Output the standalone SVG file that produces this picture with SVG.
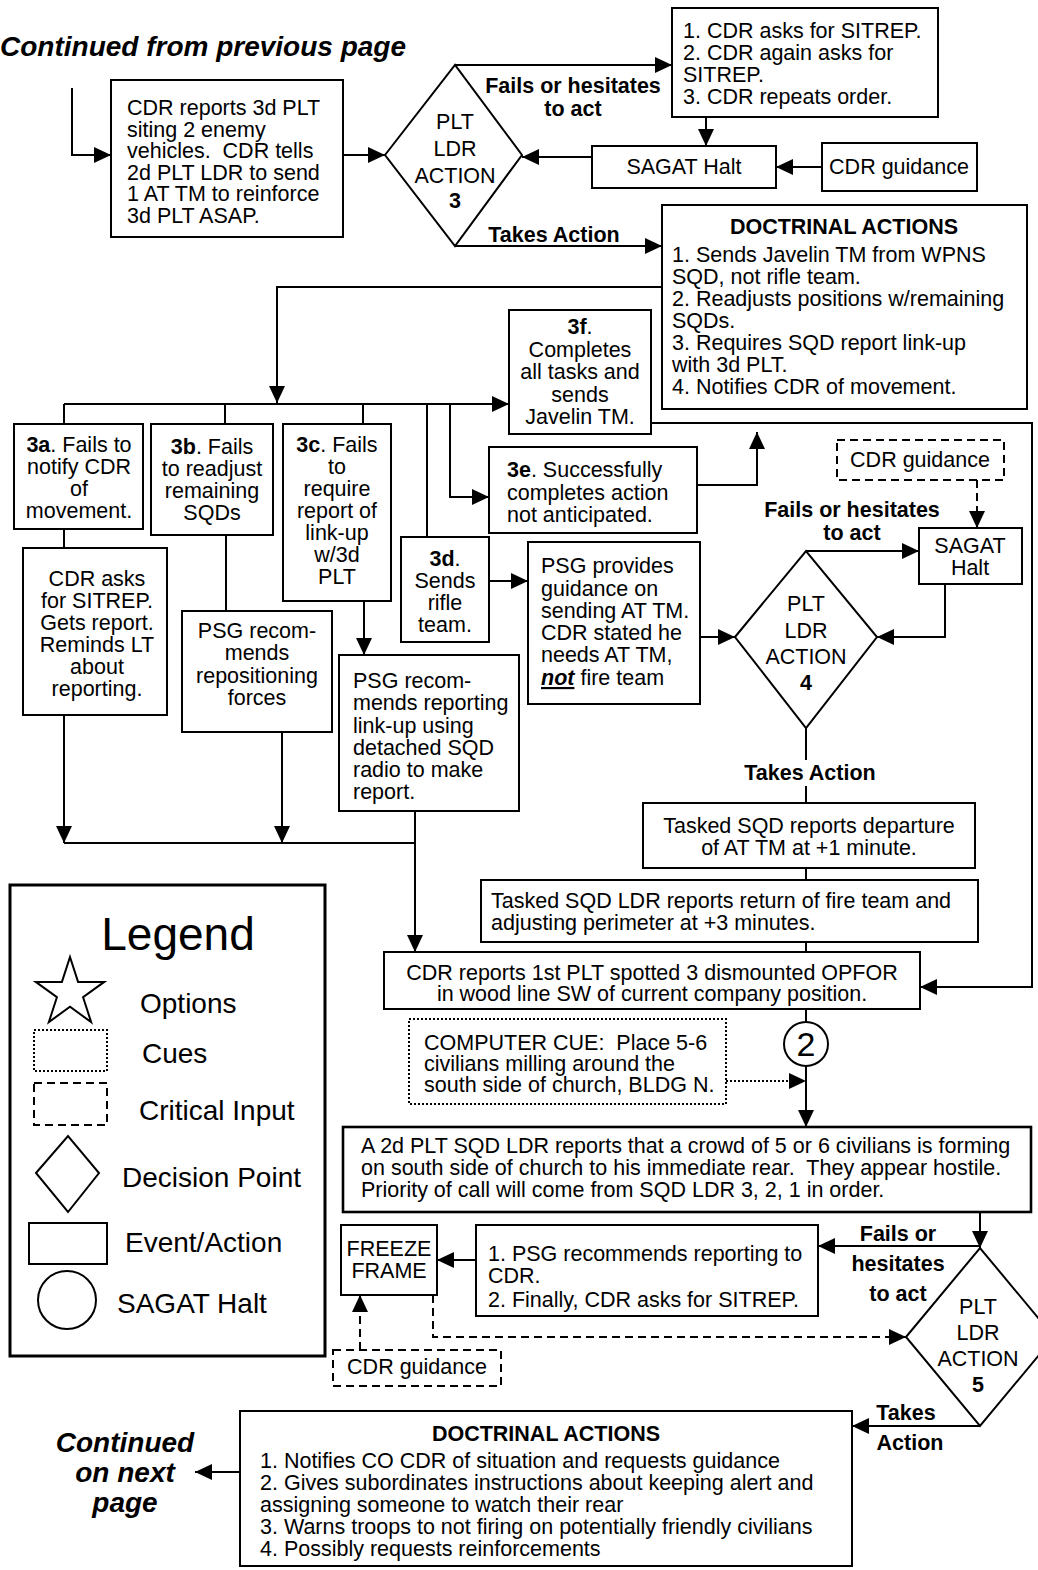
<svg xmlns="http://www.w3.org/2000/svg" width="1038" height="1570" viewBox="0 0 1038 1570">
  <style>
    text { font-family: "Liberation Sans", Arial, sans-serif; font-size: 21.5px; fill: #000; white-space: pre; }
    .b { font-weight: bold; }
    .bi { font-weight: bold; font-style: italic; font-size: 28px; }
    .c { text-anchor: middle; }
    .box { fill: #fff; stroke: #000; stroke-width: 2; }
    .thick { stroke-width: 2.6; }
    .dash { fill: #fff; stroke: #000; stroke-width: 2; stroke-dasharray: 8 5; }
    .dot { fill: #fff; stroke: #000; stroke-width: 2; stroke-dasharray: 2 2; }
    .ln { fill: none; stroke: #000; stroke-width: 2; }
    .lnd { fill: none; stroke: #000; stroke-width: 2; stroke-dasharray: 8 5; }
    .lno { fill: none; stroke: #000; stroke-width: 2; stroke-dasharray: 2 2; }
    .lg { font-size: 28px; }
    .lgt { font-size: 46px; }
    .num { font-size: 34px; }
  </style>
  <defs>
    <marker id="ah" markerUnits="userSpaceOnUse" markerWidth="18" markerHeight="16" refX="17" refY="8" orient="auto">
      <path d="M0,0 L17,8 L0,16 z" fill="#000"/>
    </marker>
  </defs>

  <rect width="1038" height="1570" fill="#fff"/>

  <!-- page continuation labels -->
  <text class="bi" x="0" y="56">Continued from previous page</text>
  <g>
    <text class="bi c" x="125" y="1452">Continued</text>
    <text class="bi c" x="125" y="1482">on next</text>
    <text class="bi c" x="125" y="1512">page</text>
  </g>

  <!-- connectors -->
  <g id="connectors">
    <polyline class="ln" points="72,88 72,155 111,155" marker-end="url(#ah)"/>
    <line class="ln" x1="343" y1="155" x2="385" y2="155" marker-end="url(#ah)"/>
    <line class="ln" x1="455" y1="65" x2="672" y2="65" marker-end="url(#ah)"/>
    <line class="ln" x1="706" y1="117" x2="706" y2="146" marker-end="url(#ah)"/>
    <line class="ln" x1="822" y1="167" x2="776" y2="167" marker-end="url(#ah)"/>
    <line class="ln" x1="592" y1="157" x2="522" y2="157" marker-end="url(#ah)"/>
    <line class="ln" x1="455" y1="246" x2="662" y2="246" marker-end="url(#ah)"/>
    <polyline class="ln" points="662,287 277,287 277,403" marker-end="url(#ah)"/>
    <line class="ln" x1="64" y1="404" x2="509" y2="404" marker-end="url(#ah)"/>
    <line class="ln" x1="64" y1="404" x2="64" y2="424"/>
    <line class="ln" x1="225" y1="404" x2="225" y2="424"/>
    <line class="ln" x1="363" y1="404" x2="363" y2="424"/>
    <line class="ln" x1="427" y1="404" x2="427" y2="537"/>
    <polyline class="ln" points="450,404 450,497 489,497" marker-end="url(#ah)"/>
    <polyline class="ln" points="697,485 757,485 757,432" marker-end="url(#ah)"/>
    <polyline class="ln" points="651,423 1032,423 1032,987 920,987" marker-end="url(#ah)"/>
    <line class="lnd" x1="977" y1="480" x2="977" y2="528" marker-end="url(#ah)"/>
    <line class="ln" x1="806" y1="551" x2="919" y2="551" marker-end="url(#ah)"/>
    <polyline class="ln" points="945,584 945,637 877,637" marker-end="url(#ah)"/>
    <line class="ln" x1="489" y1="581" x2="528" y2="581" marker-end="url(#ah)"/>
    <line class="ln" x1="700" y1="637" x2="735" y2="637" marker-end="url(#ah)"/>
    <line class="ln" x1="806" y1="728" x2="806" y2="760"/>
    <line class="ln" x1="806" y1="786" x2="806" y2="803"/>
    <line class="ln" x1="806" y1="868" x2="806" y2="880"/>
    <line class="ln" x1="806" y1="942" x2="806" y2="952"/>
    <!-- left column returns -->
    <line class="ln" x1="64" y1="529" x2="64" y2="548"/>
    <line class="ln" x1="64" y1="715" x2="64" y2="843" marker-end="url(#ah)"/>
    <line class="ln" x1="226" y1="535" x2="226" y2="611"/>
    <line class="ln" x1="282" y1="732" x2="282" y2="843" marker-end="url(#ah)"/>
    <line class="ln" x1="364" y1="601" x2="364" y2="655" marker-end="url(#ah)"/>
    <polyline class="ln" points="64,843 415,843"/>
    <line class="ln" x1="415" y1="811" x2="415" y2="952" marker-end="url(#ah)"/>
    <!-- lower section -->
    <line class="ln" x1="806" y1="1009" x2="806" y2="1022"/>
    <line class="ln" x1="806" y1="1066" x2="806" y2="1127" marker-end="url(#ah)"/>
    <line class="lno" x1="726" y1="1081" x2="806" y2="1081" marker-end="url(#ah)"/>
    <line class="ln" x1="980" y1="1212" x2="980" y2="1248" marker-end="url(#ah)"/>
    <line class="ln" x1="980" y1="1246" x2="818" y2="1246" marker-end="url(#ah)"/>
    <line class="ln" x1="476" y1="1260" x2="437" y2="1260" marker-end="url(#ah)"/>
    <polyline class="lnd" points="433,1295 433,1337 906,1337" marker-end="url(#ah)"/>
    <line class="lnd" x1="360" y1="1350" x2="360" y2="1295" marker-end="url(#ah)"/>
    <line class="ln" x1="980" y1="1426" x2="852" y2="1426" marker-end="url(#ah)"/>
    <line class="ln" x1="240" y1="1472" x2="195" y2="1472" marker-end="url(#ah)"/>
  </g>

  <!-- edge labels -->
  <g id="labels">
    <text class="b c" x="573" y="93">Fails or hesitates</text>
    <text class="b c" x="573" y="116">to act</text>
    <text class="b c" x="554" y="242">Takes Action</text>
    <text class="b c" x="852" y="517">Fails or hesitates</text>
    <text class="b c" x="852" y="540">to act</text>
    <text class="b c" x="810" y="780">Takes Action</text>
    <text class="b c" x="898" y="1241">Fails or</text>
    <text class="b c" x="898" y="1271">hesitates</text>
    <text class="b c" x="898" y="1301">to act</text>
    <text class="b c" x="906" y="1420">Takes</text>
    <text class="b c" x="910" y="1450">Action</text>
  </g>

  <g id="start-event">
    <rect class="box" x="111" y="80" width="232" height="157"/>
    <text x="127" y="115">CDR reports 3d PLT</text>
    <text x="127" y="136.5">siting 2 enemy</text>
    <text x="127" y="158">vehicles.  CDR tells</text>
    <text x="127" y="179.5">2d PLT LDR to send</text>
    <text x="127" y="201">1 AT TM to reinforce</text>
    <text x="127" y="222.5">3d PLT ASAP.</text>
  </g>

  <g id="decision-3">
    <polygon class="box" points="385,155 455,65 522,155 455,246"/>
    <text class="c" x="455" y="129">PLT</text>
    <text class="c" x="455" y="156">LDR</text>
    <text class="c" x="455" y="183">ACTION</text>
    <text class="b c" x="455" y="208">3</text>
  </g>

  <g id="cdr-prompts-3">
    <rect class="box" x="672" y="8" width="266" height="109"/>
    <text x="683" y="38">1. CDR asks for SITREP.</text>
    <text x="683" y="60">2. CDR again asks for</text>
    <text x="683" y="82">SITREP.</text>
    <text x="683" y="104">3. CDR repeats order.</text>
  </g>

  <g id="sagat-halt-3">
    <rect class="box" x="592" y="146" width="184" height="42"/>
    <text class="c" x="684" y="174">SAGAT Halt</text>
  </g>

  <g id="cdr-guidance-3">
    <rect class="box" x="822" y="143" width="155" height="48"/>
    <text class="c" x="899" y="174">CDR guidance</text>
  </g>

  <g id="doctrinal-3">
    <rect class="box" x="662" y="205" width="365" height="204"/>
    <text class="b c" x="844" y="234">DOCTRINAL ACTIONS</text>
    <text x="672" y="262">1. Sends Javelin TM from WPNS</text>
    <text x="672" y="284">SQD, not rifle team.</text>
    <text x="672" y="306">2. Readjusts positions w/remaining</text>
    <text x="672" y="328">SQDs.</text>
    <text x="672" y="350">3. Requires SQD report link-up</text>
    <text x="672" y="372">with 3d PLT.</text>
    <text x="672" y="394">4. Notifies CDR of movement.</text>
  </g>

  <g id="option-3a">
    <rect class="box" x="14" y="424" width="129" height="105"/>
    <text class="c" x="79" y="452"><tspan class="b">3a</tspan>. Fails to</text>
    <text class="c" x="79" y="474">notify CDR</text>
    <text class="c" x="79" y="496">of</text>
    <text class="c" x="79" y="518">movement.</text>
  </g>

  <g id="option-3b">
    <rect class="box" x="151" y="424" width="122" height="111"/>
    <text class="c" x="212" y="454"><tspan class="b">3b</tspan>. Fails</text>
    <text class="c" x="212" y="476">to readjust</text>
    <text class="c" x="212" y="498">remaining</text>
    <text class="c" x="212" y="520">SQDs</text>
  </g>

  <g id="option-3c">
    <rect class="box" x="283" y="424" width="108" height="177"/>
    <text class="c" x="337" y="452"><tspan class="b">3c</tspan>. Fails</text>
    <text class="c" x="337" y="474">to</text>
    <text class="c" x="337" y="496">require</text>
    <text class="c" x="337" y="518">report of</text>
    <text class="c" x="337" y="540">link-up</text>
    <text class="c" x="337" y="562">w/3d</text>
    <text class="c" x="337" y="584">PLT</text>
  </g>

  <g id="option-3d">
    <rect class="box" x="401" y="537" width="88" height="105"/>
    <text class="c" x="445" y="566"><tspan class="b">3d</tspan>.</text>
    <text class="c" x="445" y="588">Sends</text>
    <text class="c" x="445" y="610">rifle</text>
    <text class="c" x="445" y="632">team.</text>
  </g>

  <g id="option-3e">
    <rect class="box" x="489" y="447" width="208" height="86"/>
    <text x="507" y="477"><tspan class="b">3e</tspan>. Successfully</text>
    <text x="507" y="500">completes action</text>
    <text x="507" y="522">not anticipated.</text>
  </g>

  <g id="option-3f">
    <rect class="box" x="509" y="310" width="142" height="124"/>
    <text class="c" x="580" y="334"><tspan class="b">3f</tspan>.</text>
    <text class="c" x="580" y="357">Completes</text>
    <text class="c" x="580" y="379">all tasks and</text>
    <text class="c" x="580" y="402">sends</text>
    <text class="c" x="580" y="424">Javelin TM.</text>
  </g>

  <g id="cdr-sitrep-3a">
    <rect class="box" x="23" y="548" width="144" height="167"/>
    <text class="c" x="97" y="586">CDR asks</text>
    <text class="c" x="97" y="608">for SITREP.</text>
    <text class="c" x="97" y="630">Gets report.</text>
    <text class="c" x="97" y="652">Reminds LT</text>
    <text class="c" x="97" y="674">about</text>
    <text class="c" x="97" y="696">reporting.</text>
  </g>

  <g id="psg-reposition-3b">
    <rect class="box" x="182" y="611" width="150" height="121"/>
    <text class="c" x="257" y="638">PSG recom-</text>
    <text class="c" x="257" y="660">mends</text>
    <text class="c" x="257" y="683">repositioning</text>
    <text class="c" x="257" y="705">forces</text>
  </g>

  <g id="psg-linkup-3c">
    <rect class="box" x="339" y="655" width="180" height="156"/>
    <text x="353" y="688">PSG recom-</text>
    <text x="353" y="710">mends reporting</text>
    <text x="353" y="733">link-up using</text>
    <text x="353" y="755">detached SQD</text>
    <text x="353" y="777">radio to make</text>
    <text x="353" y="799">report.</text>
  </g>

  <g id="psg-guidance-3d">
    <rect class="box" x="528" y="542" width="172" height="162"/>
    <text x="541" y="573">PSG provides</text>
    <text x="541" y="596">guidance on</text>
    <text x="541" y="618">sending AT TM.</text>
    <text x="541" y="640">CDR stated he</text>
    <text x="541" y="662">needs AT TM,</text>
    <text x="541" y="685"><tspan font-weight="bold" font-style="italic" text-decoration="underline">not</tspan> fire team</text>
  </g>

  <g id="cdr-guidance-4">
    <rect class="dash" x="837" y="440" width="167" height="40"/>
    <text class="c" x="920" y="467">CDR guidance</text>
  </g>

  <g id="sagat-halt-4">
    <rect class="box" x="919" y="528" width="103" height="56"/>
    <text class="c" x="970" y="553">SAGAT</text>
    <text class="c" x="970" y="575">Halt</text>
  </g>

  <g id="decision-4">
    <polygon class="box" points="735,637 806,551 877,637 806,728"/>
    <text class="c" x="806" y="611">PLT</text>
    <text class="c" x="806" y="638">LDR</text>
    <text class="c" x="806" y="664">ACTION</text>
    <text class="b c" x="806" y="690">4</text>
  </g>

  <g id="event-departure">
    <rect class="box" x="643" y="803" width="332" height="65"/>
    <text class="c" x="809" y="833">Tasked SQD reports departure</text>
    <text class="c" x="809" y="855">of AT TM at +1 minute.</text>
  </g>

  <g id="event-return">
    <rect class="box" x="481" y="880" width="497" height="62"/>
    <text x="491" y="908">Tasked SQD LDR reports return of fire team and</text>
    <text x="491" y="930">adjusting perimeter at +3 minutes.</text>
  </g>

  <g id="event-opfor">
    <rect class="box" x="384" y="952" width="536" height="57"/>
    <text class="c" x="652" y="980">CDR reports 1st PLT spotted 3 dismounted OPFOR</text>
    <text class="c" x="652" y="1001">in wood line SW of current company position.</text>
  </g>

  <g id="sagat-halt-2">
    <circle class="box" cx="806" cy="1044" r="22"/>
    <text class="c num" x="806" y="1056">2</text>
  </g>

  <g id="computer-cue">
    <rect class="dot" x="409" y="1019" width="317" height="85"/>
    <text x="424" y="1050">COMPUTER CUE:  Place 5-6</text>
    <text x="424" y="1071">civilians milling around the</text>
    <text x="424" y="1092">south side of church, BLDG N.</text>
  </g>

  <g id="event-crowd">
    <rect class="box thick" x="343" y="1127" width="688" height="85"/>
    <text x="361" y="1153">A 2d PLT SQD LDR reports that a crowd of 5 or 6 civilians is forming</text>
    <text x="361" y="1175">on south side of church to his immediate rear.  They appear hostile.</text>
    <text x="361" y="1197">Priority of call will come from SQD LDR 3, 2, 1 in order.</text>
  </g>

  <g id="decision-5">
    <polygon class="box" points="906,1337 980,1248 1054,1337 980,1426"/>
    <text class="c" x="978" y="1314">PLT</text>
    <text class="c" x="978" y="1340">LDR</text>
    <text class="c" x="978" y="1366">ACTION</text>
    <text class="b c" x="978" y="1392">5</text>
  </g>

  <g id="psg-prompts-5">
    <rect class="box" x="476" y="1225" width="342" height="91"/>
    <text x="488" y="1261">1. PSG recommends reporting to</text>
    <text x="488" y="1283">CDR.</text>
    <text x="488" y="1307">2. Finally, CDR asks for SITREP.</text>
  </g>

  <g id="freeze-frame">
    <rect class="box" x="341" y="1225" width="96" height="70"/>
    <text class="c" x="389" y="1256">FREEZE</text>
    <text class="c" x="389" y="1278">FRAME</text>
  </g>

  <g id="cdr-guidance-5">
    <rect class="dash" x="333" y="1350" width="168" height="36"/>
    <text class="c" x="417" y="1374">CDR guidance</text>
  </g>

  <g id="doctrinal-5">
    <rect class="box" x="240" y="1411" width="612" height="155"/>
    <text class="b c" x="546" y="1441">DOCTRINAL ACTIONS</text>
    <text x="260" y="1468">1. Notifies CO CDR of situation and requests guidance</text>
    <text x="260" y="1490">2. Gives subordinates instructions about keeping alert and</text>
    <text x="260" y="1512">assigning someone to watch their rear</text>
    <text x="260" y="1534">3. Warns troops to not firing on potentially friendly civilians</text>
    <text x="260" y="1556">4. Possibly requests reinforcements</text>
  </g>

  <g id="legend">
    <rect x="10" y="885" width="315" height="471" fill="#fff" stroke="#000" stroke-width="3"/>
    <text class="c lgt" x="178" y="950">Legend</text>
    <polygon class="box" points="70,957 78.08,981.88 104.24,981.88 83.08,997.25 91.16,1022.12 70,1006.75 48.84,1022.12 56.92,997.25 35.76,981.88 61.92,981.88"/>
    <text class="lg" x="140" y="1013">Options</text>
    <rect class="dot" x="34" y="1030" width="73" height="41"/>
    <text class="lg" x="142" y="1063">Cues</text>
    <rect class="dash" x="34" y="1083" width="73" height="42"/>
    <text class="lg" x="139" y="1120">Critical Input</text>
    <polygon class="box" points="36,1173 68,1136 99,1173 68,1212"/>
    <text class="lg" x="122" y="1187">Decision Point</text>
    <rect class="box" x="29" y="1223" width="78" height="41"/>
    <text class="lg" x="125" y="1252">Event/Action</text>
    <circle class="box" cx="67" cy="1300" r="29"/>
    <text class="lg" x="117" y="1313">SAGAT Halt</text>
  </g>
</svg>
